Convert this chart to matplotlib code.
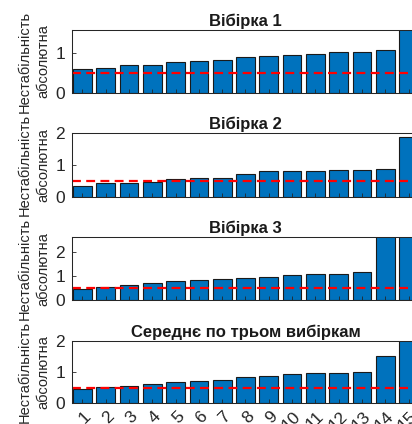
import numpy as np
import matplotlib
matplotlib.use('Agg')
import matplotlib.pyplot as plt
from matplotlib.transforms import ScaledTranslation

plt.rcParams['font.family'] = ['Liberation Sans', 'DejaVu Sans']

# values (sorted bars, ranks 1..15)
ranks = np.arange(1, 16)
sample1 = [0.60, 0.625, 0.70, 0.71, 0.78, 0.80, 0.825, 0.91, 0.93, 0.95, 0.975, 1.03, 1.03, 1.07, 1.80]
sample2 = [0.34, 0.42, 0.42, 0.46, 0.55, 0.58, 0.60, 0.72, 0.81, 0.81, 0.82, 0.83, 0.85, 0.88, 1.87]
sample3 = [0.47, 0.55, 0.62, 0.71, 0.78, 0.84, 0.86, 0.92, 0.95, 1.04, 1.10, 1.10, 1.15, 2.80, 3.00]
mean3 = [0.47, 0.51, 0.56, 0.62, 0.69, 0.72, 0.74, 0.83, 0.87, 0.93, 0.96, 0.98, 1.00, 1.51, 2.20]
threshold = 0.5

titles = ['Вібірка 1', 'Вібірка 2', 'Вібірка 3', 'Середнє по трьом вибіркам']
series = [sample1, sample2, sample3, mean3]
ylims = [1.58, 2.0, 2.6, 2.0]
yticks = [[0, 1], [0, 1, 2], [0, 1, 2], [0, 1, 2]]
ylabel = 'Нестабільність\nабсолютна'

# axes boxes in pixels (top, bottom) on a 412x424 canvas
boxes = [(30, 93), (133.3, 196.7), (237.3, 300.3), (340.7, 403.3)]

W, H = 412, 424
fig = plt.figure(figsize=(W / 100, H / 100), dpi=100)
txt = '#262626'

for i in range(4):
    top, bot = boxes[i]
    ax = fig.add_axes([72 / W, 1 - bot / H, 347 / W, (bot - top) / H])
    ax.bar(ranks, series[i], width=0.8, color='#0072BD', edgecolor='#1a1a1a', linewidth=0.8)
    ax.axhline(threshold, color='#FF0000', ls='--', lw=1.6, dashes=(4.0, 2.4))
    ax.set_xlim(0.55, 15.45)
    ax.set_ylim(0, ylims[i])
    ax.set_yticks(yticks[i])
    ax.set_xticks(ranks)
    ax.tick_params(direction='in', length=3, width=0.6, labelsize=12.5, colors=txt, pad=5)
    if i == 3:
        ax.set_xticklabels([str(r) for r in ranks], rotation=45, ha='right', va='center',
                           rotation_mode='anchor')
        ax.tick_params(axis='x', pad=8)
        shift = ScaledTranslation(0.06, 0, fig.dpi_scale_trans)
        for lab in ax.get_xticklabels():
            lab.set_transform(lab.get_transform() + shift)
    else:
        ax.set_xticklabels([])
    for s in ax.spines.values():
        s.set_color(txt)
        s.set_linewidth(0.75)
    ax.set_title(titles[i], fontsize=12, fontweight='bold', color='#1a1a1a', pad=3)
    ax.set_ylabel(ylabel, fontsize=10.5, color=txt, linespacing=1.42, labelpad=3.5)

fig.savefig('out.png', dpi=100)
